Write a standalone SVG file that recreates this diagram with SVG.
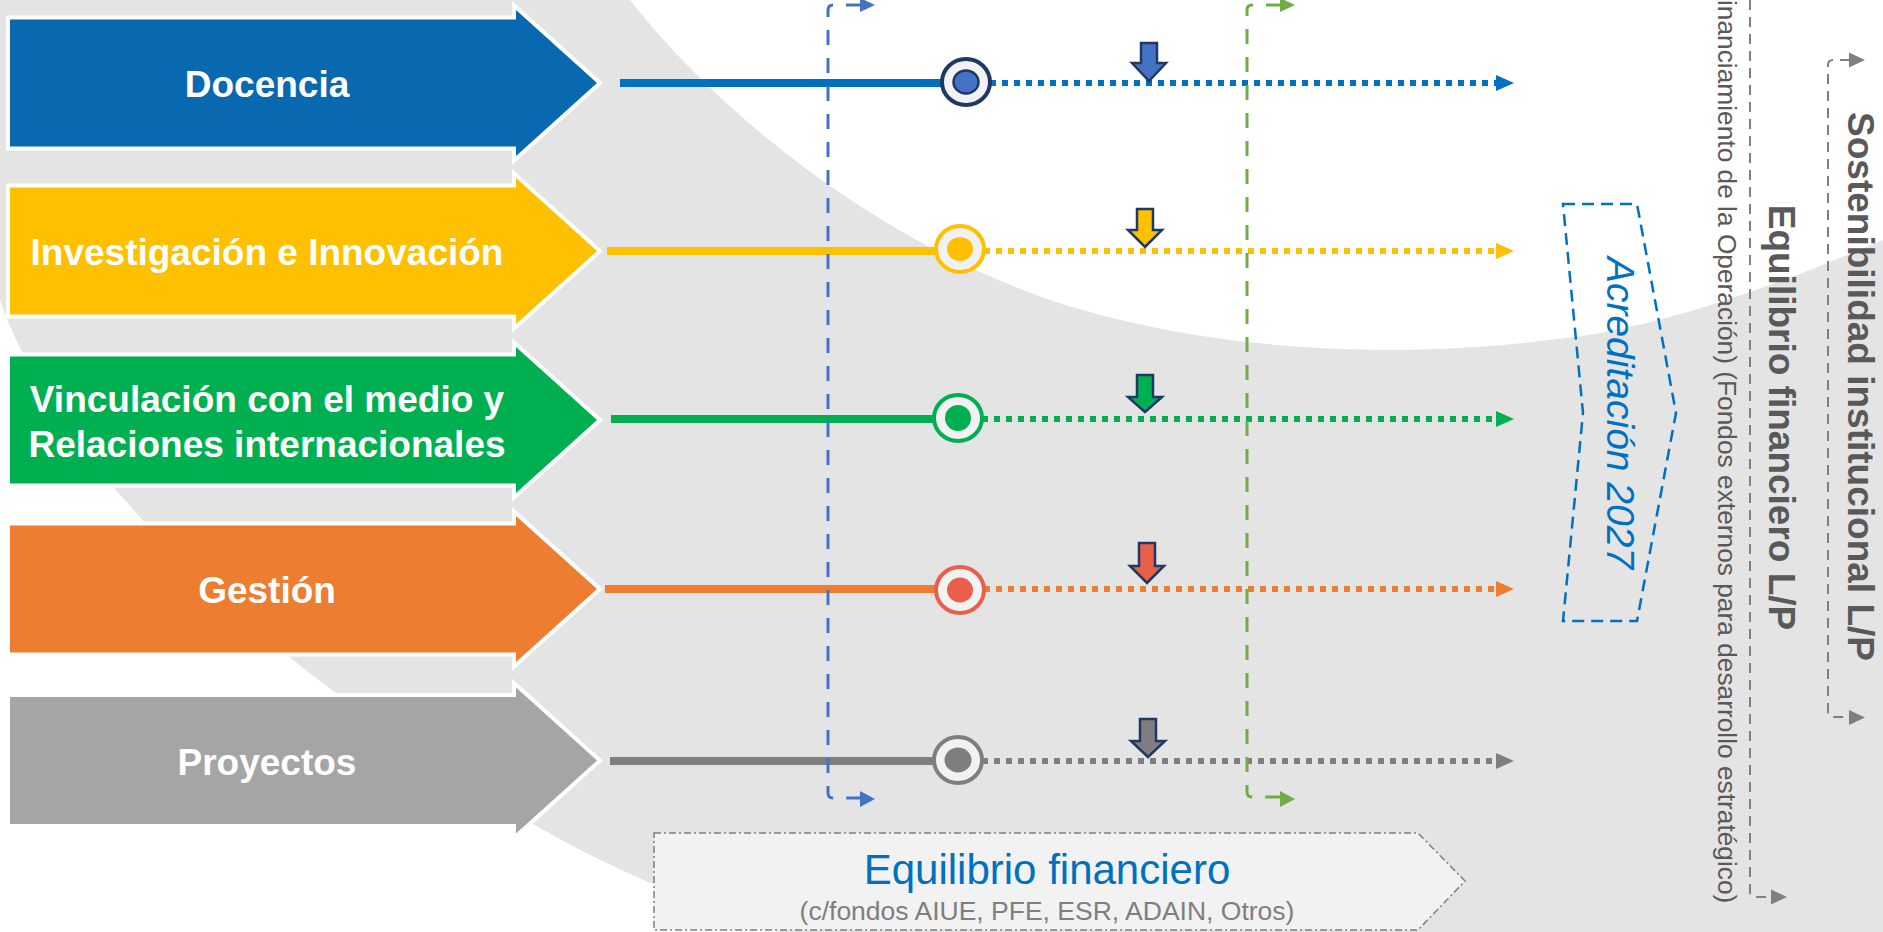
<svg xmlns="http://www.w3.org/2000/svg" width="1883" height="932" viewBox="0 0 1883 932">
<defs>
<style>
.chev{stroke:#ffffff;stroke-width:8;paint-order:stroke;stroke-linejoin:miter}
.lbl{font-family:"Liberation Sans",Arial,sans-serif;font-weight:bold;font-size:37px;fill:#ffffff;text-anchor:middle}
.solid{fill:none;stroke-width:8}
.dot{fill:none;stroke-width:6;stroke-dasharray:6 6}
.ring{fill:#f2f2f2;stroke-width:4}
.down{stroke:#1f3864;stroke-width:2.5;stroke-linejoin:miter}
.vdash{fill:none;stroke-width:3;stroke-dasharray:15 13}
.gdash{fill:none;stroke:#7f7f7f;stroke-width:2;stroke-dasharray:10 7}
.vt{font-family:"Liberation Sans",Arial,sans-serif;fill:#595959}
</style>
</defs>
<g id="background">
<rect x="0" y="0" width="1883" height="932" fill="#e4e4e4"/>
<path d="M630,0 C700,90 850,230 1050,300 C1200,350 1400,365 1600,333 C1700,315 1800,275 1883,240 L1883,0 Z" fill="#ffffff"/>
<path d="M0,300 C40,420 190,610 450,770 C540,835 640,885 780,932 L0,932 Z" fill="#ffffff"/>
</g>

<g id="connectors">
<line class="solid" x1="620" y1="83" x2="966" y2="83" stroke="#0070c0"/>
<line class="dot" x1="966" y1="83" x2="1497" y2="83" stroke="#0070c0"/>
<polygon points="1496,75 1514,83 1496,91" fill="#0070c0"/>

<line class="solid" x1="607" y1="251" x2="960" y2="251" stroke="#ffc000"/>
<line class="dot" x1="960" y1="251" x2="1497" y2="251" stroke="#ffc000"/>
<polygon points="1496,243 1514,251 1496,259" fill="#ffc000"/>

<line class="solid" x1="611" y1="419" x2="958" y2="419" stroke="#00b050"/>
<line class="dot" x1="958" y1="419" x2="1497" y2="419" stroke="#00b050"/>
<polygon points="1496,411 1514,419 1496,427" fill="#00b050"/>

<line class="solid" x1="605" y1="589" x2="960" y2="589" stroke="#ed7d31"/>
<line class="dot" x1="960" y1="589" x2="1497" y2="589" stroke="#ed7d31"/>
<polygon points="1496,581 1514,589 1496,597" fill="#ed7d31"/>

<line class="solid" x1="610" y1="761" x2="958" y2="761" stroke="#7f7f7f"/>
<line class="dot" x1="958" y1="761" x2="1497" y2="761" stroke="#7f7f7f"/>
<polygon points="1496,753 1514,761 1496,769" fill="#7f7f7f"/>

<path class="vdash" stroke="#4472c4" d="M861,5 H833 Q828,5 828,10 V793 Q828,798 833,798 H861"/>
<polygon points="860,-2 875,5 860,12" fill="#4472c4"/>
<polygon points="860,791 875,799 860,807" fill="#4472c4"/>
<path class="vdash" stroke="#70ad47" d="M1281,5 H1252 Q1247,5 1247,10 V792 Q1247,797 1252,797 H1281"/>
<polygon points="1280,-2 1295,5 1280,12" fill="#70ad47"/>
<polygon points="1280,791 1295,799 1280,807" fill="#70ad47"/>

<path class="gdash" d="M1850,60 H1833 Q1828,60 1828,65 V712 Q1828,717 1833,717 H1850"/>
<polygon points="1849,52.5 1865,60 1849,67.5" fill="#7f7f7f"/>
<polygon points="1849,710 1865,717.5 1849,725" fill="#7f7f7f"/>
<path class="gdash" d="M1750,0 V892 Q1750,897 1755,897 H1772"/>
<polygon points="1771,889.5 1787,897 1771,904.5" fill="#7f7f7f"/>
</g>

<g id="docencia">
<polygon class="chev" fill="#0868b0" points="10,19.5 516,19.5 516,10 597,83 516,156 516,146.5 10,146.5"/>
<text class="lbl" x="267" y="97">Docencia</text>
</g>
<g id="investigacion">
<polygon class="chev" fill="#ffc000" points="10,187.5 516,187.5 516,178 597,251 516,324 516,314.5 10,314.5"/>
<text class="lbl" x="267" y="265">Investigación e Innovación</text>
</g>
<g id="vinculacion">
<polygon class="chev" fill="#00b050" points="10,356.5 516,356.5 516,347 597,420 516,493 516,483.5 10,483.5"/>
<text class="lbl" x="267" y="412">Vinculación con el medio y</text>
<text class="lbl" x="267" y="457">Relaciones internacionales</text>
</g>
<g id="gestion">
<polygon class="chev" fill="#ed7d31" points="10,525.5 516,525.5 516,516 597,589 516,662 516,652.5 10,652.5"/>
<text class="lbl" x="267" y="603">Gestión</text>
</g>
<g id="proyectos">
<polygon class="chev" fill="#a5a5a5" points="10,697 516,697 516,687.5 597,760.5 516,833.5 516,824 10,824"/>
<text class="lbl" x="267" y="775">Proyectos</text>
</g>

<g id="hito-docencia">
<ellipse class="ring" cx="966" cy="82" rx="24" ry="23" stroke="#1f3864" stroke-width="4.5"/>
<ellipse cx="966" cy="82" rx="12.5" ry="11.5" fill="#4472c4" stroke="#1f3864" stroke-width="2.5"/>
<polygon class="down" fill="#4472c4" points="1141,43 1157,43 1157,63 1166,63 1149,81 1132,63 1141,63"/>
</g>
<g id="hito-investigacion">
<ellipse class="ring" cx="960" cy="249" rx="24" ry="23" stroke="#ffc000"/>
<ellipse cx="960" cy="249" rx="13" ry="12" fill="#ffc000"/>
<polygon class="down" fill="#ffc000" points="1137,209 1153,209 1153,230 1162,230 1145,247 1128,230 1137,230"/>
</g>
<g id="hito-vinculacion">
<ellipse class="ring" cx="958" cy="418" rx="24" ry="23" stroke="#00b050"/>
<ellipse cx="958" cy="418" rx="13" ry="13" fill="#00b050"/>
<polygon class="down" fill="#00b050" points="1137,375 1153,375 1153,397 1162,397 1145,412 1128,397 1137,397"/>
</g>
<g id="hito-gestion">
<ellipse class="ring" cx="960" cy="590" rx="24" ry="23" stroke="#ea5f49"/>
<ellipse cx="960" cy="590" rx="13" ry="12.5" fill="#ea5f49"/>
<polygon class="down" fill="#ea5f49" points="1139,543 1155,543 1155,566 1164,566 1147,583 1130,566 1139,566"/>
</g>
<g id="hito-proyectos">
<ellipse class="ring" cx="958" cy="760" rx="24" ry="23" stroke="#7f7f7f"/>
<ellipse cx="958" cy="760" rx="13.5" ry="12.5" fill="#7f7f7f"/>
<polygon class="down" fill="#7f7f7f" points="1140,719 1156,719 1156,741 1165,741 1148,757 1131,741 1140,741"/>
</g>

<g id="acreditacion">
<polygon points="1563,204 1637,204 1676,413 1637,621 1563,621 1583,413" fill="none" stroke="#0070c0" stroke-width="2.5" stroke-dasharray="12 7"/>
<text transform="translate(1607,413) rotate(90)" text-anchor="middle" font-family="Liberation Sans, Arial, sans-serif" font-style="italic" font-size="39" fill="#0070c0">Acreditación 2027</text>
</g>

<g id="financiamiento">
<text class="vt" transform="translate(1717.5,0) rotate(90)" font-size="26.3">inanciamiento de la Operación) (Fondos externos para desarrollo estratégico)</text>
</g>
<g id="equilibrio-lp">
<text class="vt" transform="translate(1769,417.5) rotate(90)" text-anchor="middle" font-weight="bold" font-size="37">Equilibrio financiero L/P</text>
</g>
<g id="sostenibilidad">
<text class="vt" transform="translate(1848,386.5) rotate(90)" text-anchor="middle" font-weight="bold" font-size="37">Sostenibilidad institucional L/P</text>
</g>

<g id="equilibrio-financiero">
<polygon points="654,833 1418,833 1465,881 1418,930 654,930" fill="#f2f2f2" stroke="#7f7f7f" stroke-width="1.5" stroke-dasharray="7 3 2 3"/>
<text x="1047" y="884" text-anchor="middle" font-family="Liberation Sans, Arial, sans-serif" font-size="42" fill="#0070c0">Equilibrio financiero</text>
<text x="1047" y="920" text-anchor="middle" font-family="Liberation Sans, Arial, sans-serif" font-size="26.5" fill="#7f7f7f">(c/fondos AIUE, PFE, ESR, ADAIN, Otros)</text>
</g>
</svg>
